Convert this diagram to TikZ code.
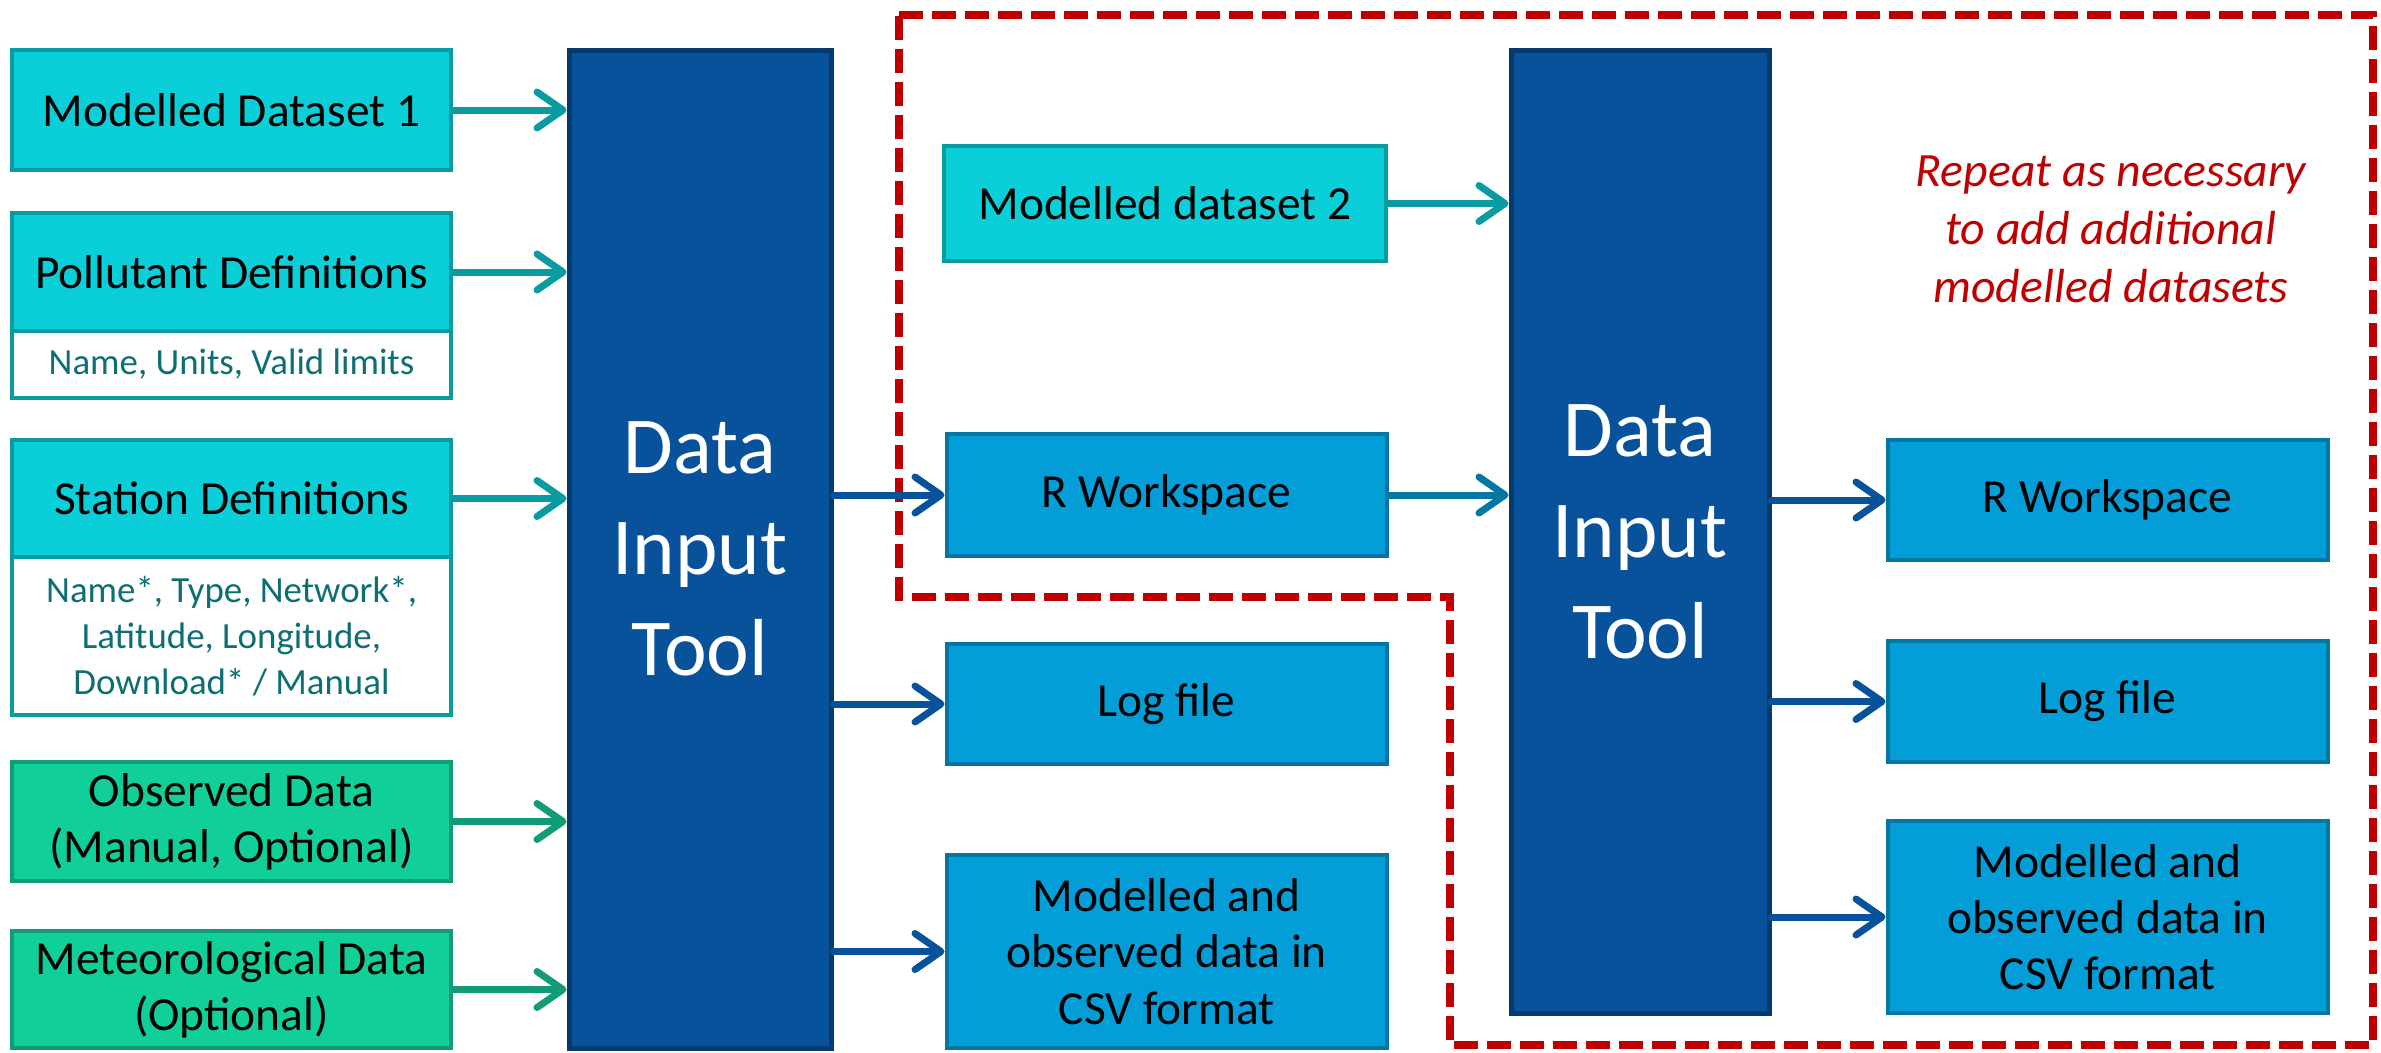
\documentclass[tikz,border=0pt]{standalone}
\usepackage{fontspec}
\setmainfont{Carlito}
\usetikzlibrary{arrows.meta}

\definecolor{cyanfill}{HTML}{0BCFD8}
\definecolor{cyanline}{HTML}{0A9BA0}
\definecolor{greenfill}{HTML}{11CF98}
\definecolor{greenline}{HTML}{109C78}
\definecolor{bluefill}{HTML}{039DD8}
\definecolor{blueline}{HTML}{0277A2}
\definecolor{toolfill}{HTML}{08529B}
\definecolor{toolline}{HTML}{053A6E}
\definecolor{notetext}{HTML}{0D6E73}
\definecolor{repeatred}{HTML}{C00000}

\tikzset{
  box/.style={draw, line width=0.4mm, inner sep=0pt, align=center, font=\fontsize{13.5}{16}\selectfont},
  inbox/.style={box, fill=cyanfill, draw=cyanline, minimum width=43.9mm},
  obsbox/.style={box, fill=greenfill, draw=greenline, minimum width=43.9mm},
  notebox/.style={box, fill=white, draw=cyanline, text=notetext, minimum width=43.9mm, font=\fontsize{10.5}{13}\selectfont},
  outbox/.style={box, fill=bluefill, draw=blueline, minimum width=44mm},
  toolbox/.style={draw=toolline, fill=toolfill, line width=0.5mm, text=white, align=center, font=\fontsize{23}{28.7}\selectfont},
  arr/.style={line width=0.7mm, line cap=round, -{Straight Barb[length=2.6mm, width=3.6mm, line cap=round, line join=round]}},
}

\begin{document}
\begin{tikzpicture}[x=0.1mm, y=-0.1mm]
\useasboundingbox (0,0) rectangle (2381,1052);

% repeat frame
\draw[repeatred, line width=0.75mm, dash pattern=on 2.4mm off 0.9mm] (899,15) -- (2373,15) -- (2373,1045) -- (1450,1045) -- (1450,597) -- (899,597) -- cycle;

% inputs
\node[inbox, minimum height=12mm] (md1) at (231.5,110) {Modelled Dataset 1};
\node[notebox, minimum height=6.7mm] (polnote) at (231.5,364.5) {Name, Units, Valid limits};
\node[inbox, minimum height=11.8mm] (pol) at (231.5,272) {Pollutant Definitions};
\node[notebox, minimum height=15.8mm] (stanote) at (231.5,636) {Name*, Type, Network*,\\Latitude, Longitude,\\Download* / Manual};
\node[inbox, minimum height=11.7mm] (sta) at (231.5,498.5) {Station Definitions};
\node[obsbox, minimum height=11.9mm] (obs) at (231.5,821.5) {Observed Data\\(Manual, Optional)};
\node[obsbox, minimum height=11.7mm] (met) at (231.5,989.5) {Meteorological Data\\(Optional)};

% tools
\node[toolbox, minimum width=26.2mm, minimum height=99.8mm] (dit1) at (700,549) {Data\\Input\\Tool};
\node[toolbox, minimum width=25.8mm, minimum height=96.3mm] (dit2) at (1640,531.5) {Data\\Input\\Tool};

% outputs
\node[inbox, minimum width=44.2mm, minimum height=11.5mm] (md2) at (1165,203.5) {Modelled dataset 2};
\node[outbox, minimum height=12.2mm] (rw1) at (1166.5,495) {R Workspace};
\node[outbox, minimum height=12mm] (log1) at (1166.5,704) {Log file};
\node[outbox, minimum height=19.3mm] (csv1) at (1166.5,951.5) {Modelled and\\observed data in\\CSV format};
\node[outbox, minimum height=12mm] (rw2) at (2107.5,500) {R Workspace};
\node[outbox, minimum height=12.1mm] (log2) at (2107.5,701.5) {Log file};
\node[outbox, minimum height=19.2mm] (csv2) at (2107.5,917) {Modelled and\\observed data in\\CSV format};

\node[text=repeatred, align=center, font=\fontsize{13.6}{16.5}\selectfont\itshape] (rep) at (2111,229.5) {Repeat as necessary\\to add additional\\modelled datasets};

% arrows
\draw[arr, cyanline] (md1.east) -- (md1.east -| dit1.west);
\draw[arr, cyanline] (pol.east) -- (pol.east -| dit1.west);
\draw[arr, cyanline] (sta.east) -- (sta.east -| dit1.west);
\draw[arr, greenline] (obs.east) -- (obs.east -| dit1.west);
\draw[arr, greenline] (met.east) -- (met.east -| dit1.west);

\draw[arr, toolfill] (dit1.east |- rw1.west) -- (rw1.west);
\draw[arr, toolfill] (dit1.east |- log1.west) -- (log1.west);
\draw[arr, toolfill] (dit1.east |- csv1.west) -- (csv1.west);

\draw[arr, cyanline] (md2.east) -- (md2.east -| dit2.west);
\draw[arr, blueline] (rw1.east) -- (rw1.east -| dit2.west);

\draw[arr, toolfill] (dit2.east |- rw2.west) -- (rw2.west);
\draw[arr, toolfill] (dit2.east |- log2.west) -- (log2.west);
\draw[arr, toolfill] (dit2.east |- csv2.west) -- (csv2.west);

\end{tikzpicture}
\end{document}
